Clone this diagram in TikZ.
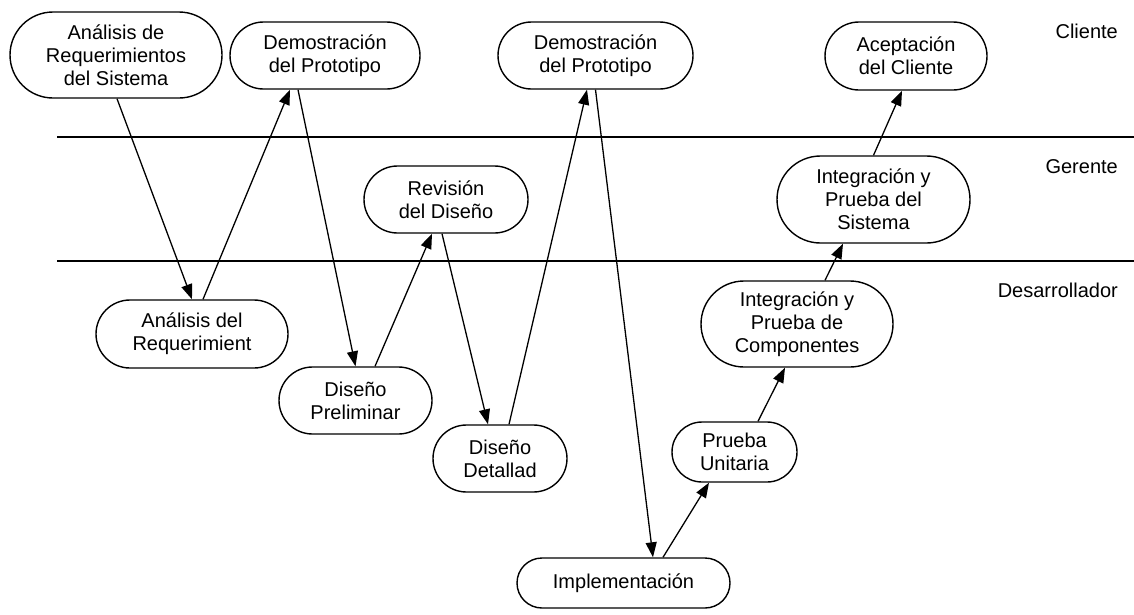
\documentclass[tikz,border=0pt]{standalone}
\usepackage{fontspec}
\setmainfont{Liberation Sans}
\usetikzlibrary{arrows.meta,shapes.misc}
\newcommand{\lanefont}{\fontsize{20}{23}\selectfont}
\begin{document}
\begin{tikzpicture}[x=1pt,y=-1pt,
  activity/.style={rounded rectangle, draw, line width=1.4pt, align=center,
    inner sep=0pt, font=\lanefont},
  flow/.style={line width=1.3pt, -{Triangle[length=15pt,width=11pt]}},
  lane/.style={line width=1.5pt},
  lanelabel/.style={anchor=base east, inner sep=0pt, font=\lanefont}]
\useasboundingbox (0,0) rectangle (1134,614);

% swim-lane dividers
\draw[lane] (57,137) -- (1134,137);
\draw[lane] (57,261) -- (1134,261);

% lane titles
\node[lanelabel] (cliente) at (1118,38) {Cliente};
\node[lanelabel] (gerente) at (1118,173) {Gerente};
\node[lanelabel] (desarrollador) at (1118,297) {Desarrollador};

% activities
\node[activity, minimum width=212pt, minimum height=86pt] (ars) at (116,55)
  {Análisis de\\Requerimientos\\del Sistema};
\node[activity, minimum width=190pt, minimum height=67pt] (demoA) at (325,55.5)
  {Demostración\\del Prototipo};
\node[activity, minimum width=195pt, minimum height=67pt] (demoB) at (595.5,55.5)
  {Demostración\\del Prototipo};
\node[activity, minimum width=162pt, minimum height=68pt] (acept) at (906,56)
  {Aceptación\\del Cliente};
\node[activity, minimum width=164pt, minimum height=67pt] (revis) at (446,199.5)
  {Revisión\\del Diseño};
\node[activity, minimum width=193pt, minimum height=87pt] (intsis) at (873.5,199.5)
  {Integración y\\Prueba del\\Sistema};
\node[activity, minimum width=192pt, minimum height=68pt] (areq) at (192,334)
  {Análisis del\\Requerimient};
\node[activity, minimum width=153pt, minimum height=67pt] (dprel) at (355.5,400.5)
  {Diseño\\Preliminar};
\node[activity, minimum width=134pt, minimum height=67pt] (ddet) at (500,458.5)
  {Diseño\\Detallad};
\node[activity, minimum width=213pt, minimum height=50pt] (impl) at (623.5,583)
  {Implementación};
\node[activity, minimum width=125pt, minimum height=60pt] (unit) at (734.5,452)
  {Prueba\\Unitaria};
\node[activity, minimum width=192pt, minimum height=86pt] (intcomp) at (797,324)
  {Integración y\\Prueba de\\Componentes};

% process flow
\draw[flow] ([xshift=1pt]ars.south) -- (areq.north);
\draw[flow] ([xshift=11pt]areq.north) -- ([xshift=-35pt]demoA.south);
\draw[flow] ([xshift=-27pt]demoA.south) -- (dprel.north);
\draw[flow] ([xshift=19.5pt]dprel.north) -- ([xshift=-14pt]revis.south);
\draw[flow] ([xshift=-4pt]revis.south) -- ([xshift=-12pt]ddet.north);
\draw[flow] ([xshift=9pt]ddet.north) -- ([xshift=-8.5pt]demoB.south);
\draw[flow] (demoB.south) -- ([xshift=29.5pt]impl.north);
\draw[flow] ([xshift=39.5pt]impl.north) -- ([xshift=-25.5pt]unit.south);
\draw[flow] ([xshift=23.5pt]unit.north) -- ([xshift=-12pt]intcomp.south);
\draw[flow] ([xshift=28pt]intcomp.north) -- ([xshift=-30.5pt]intsis.south);
\draw[flow] (intsis.north) -- ([xshift=-4pt]acept.south);
\end{tikzpicture}
\end{document}
